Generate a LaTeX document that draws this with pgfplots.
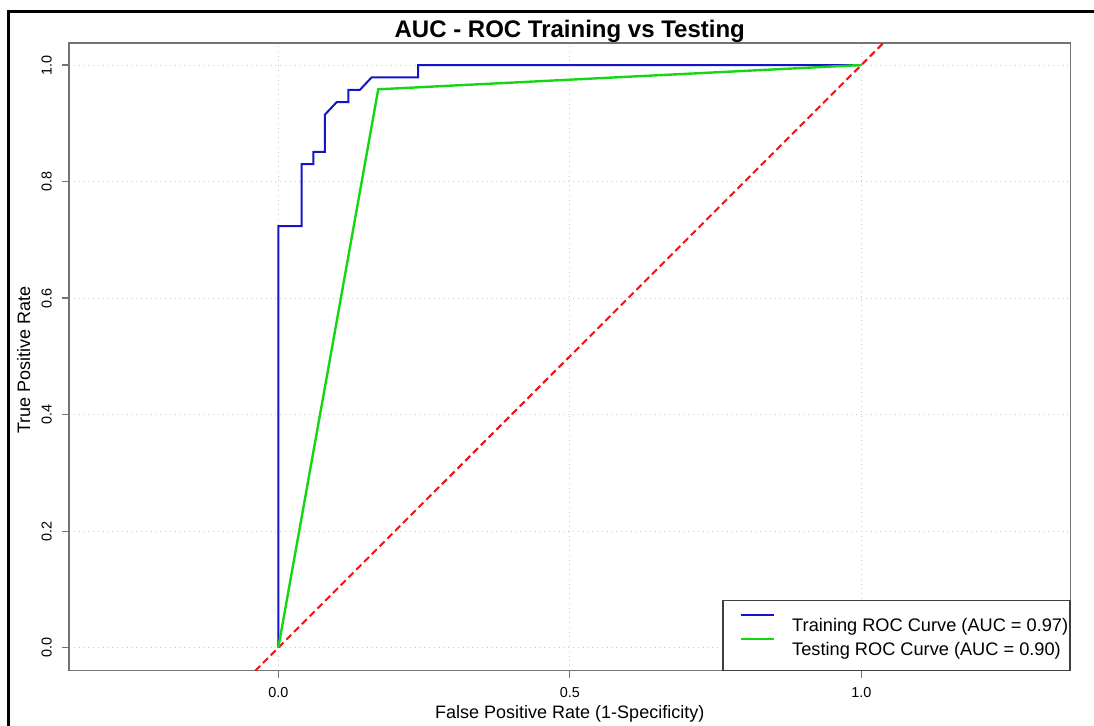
\documentclass[border=0pt]{standalone}
\usepackage{pgfplots}
\pgfplotsset{compat=1.18}
\usepackage{fontspec}
\setmainfont{Liberation Sans}
\definecolor{rocblue}{RGB}{20,20,200}
\definecolor{rocgreen}{RGB}{20,215,20}
\definecolor{rocred}{RGB}{235,20,20}
\begin{document}
\begin{tikzpicture}
\useasboundingbox (0pt,0pt) rectangle (547pt,362.5pt);
\draw[black, line width=1.35pt] (4.35pt,-5pt) -- (4.35pt,356.85pt) -- (560pt,356.85pt);
\begin{axis}[
  at={(34.5pt,27.15pt)}, anchor=south west,
  scale only axis, width=500.75pt, height=313.85pt,
  xmin=-0.359, xmax=1.3588, ymin=-0.0395, ymax=1.0378,
  axis line style={black!55, line width=0.6pt},
  xtick={0,0.5,1}, ytick={0,0.2,0.4,0.6,0.8,1},
  xtick pos=bottom, ytick pos=left,
  tick align=outside, major tick length=3.5pt,
  tick style={black!55, line width=0.6pt},
  /pgf/number format/assume math mode=true,
  /pgf/number format/.cd, fixed, fixed zerofill, precision=1, /pgfplots/.cd,
  ticklabel style={font=\fontsize{7.2}{8}\selectfont},
  xticklabel style={inner sep=0pt, anchor=base, yshift=-9.65pt},
  yticklabel style={inner sep=0pt, xshift=-5.15pt, rotate=90, anchor=base},
  grid=major,
  major grid style={gray!45, dotted, line width=0.5pt},
  title={AUC - ROC Training vs Testing},
  title style={font=\fontsize{12}{14}\selectfont\bfseries, at={(axis description cs:0.5,1)}, anchor=base, yshift=-3.15pt, inner sep=0pt},
  xlabel={False Positive Rate (1-Specificity)},
  xlabel style={font=\fontsize{9}{11}\selectfont, at={(axis description cs:0.5,0)}, anchor=base, yshift=-23.8pt, inner sep=0pt},
  ylabel={True Positive Rate},
  ylabel style={font=\fontsize{9}{11}\selectfont, at={(axis description cs:-0.03894,0.495)}, anchor=base, inner sep=0pt},
  legend cell align=left,
  legend style={at={(axis description cs:1,0)}, anchor=south east,
    draw=black!75, line width=0.6pt, fill=white,
    inner xsep=0.85pt, inner ysep=5.65pt,
    font=\fontsize{9.1}{11}\selectfont,
    column sep=8.6pt,
    nodes={inner sep=0pt, text height=9.85pt, text depth=1.85pt}},
  legend image code/.code={\path (0pt,0pt); \draw[#1] (7.35pt,4.2pt) -- (24pt,4.2pt);},
]
\addplot[rocred, line width=1pt, dash pattern=on 3.5pt off 2pt, forget plot] coordinates {(-0.4,-0.4) (1.4,1.4)};
\addplot[rocblue, line width=1pt] coordinates {
(0,0) (0,0.7234) (0.04,0.7234) (0.04,0.8298) (0.06,0.8298) (0.06,0.8511)
(0.08,0.8511) (0.08,0.9149) (0.10,0.9362) (0.12,0.9362) (0.12,0.9574)
(0.14,0.9574) (0.16,0.9787) (0.24,0.9787) (0.24,1) (1,1)};
\addplot[rocgreen, line width=1.2pt] coordinates {(0,0) (0.1714,0.9583) (1,1)};
\legend{Training ROC Curve (AUC = 0.97), Testing ROC Curve (AUC = 0.90)}
\end{axis}
\end{tikzpicture}
\end{document}
